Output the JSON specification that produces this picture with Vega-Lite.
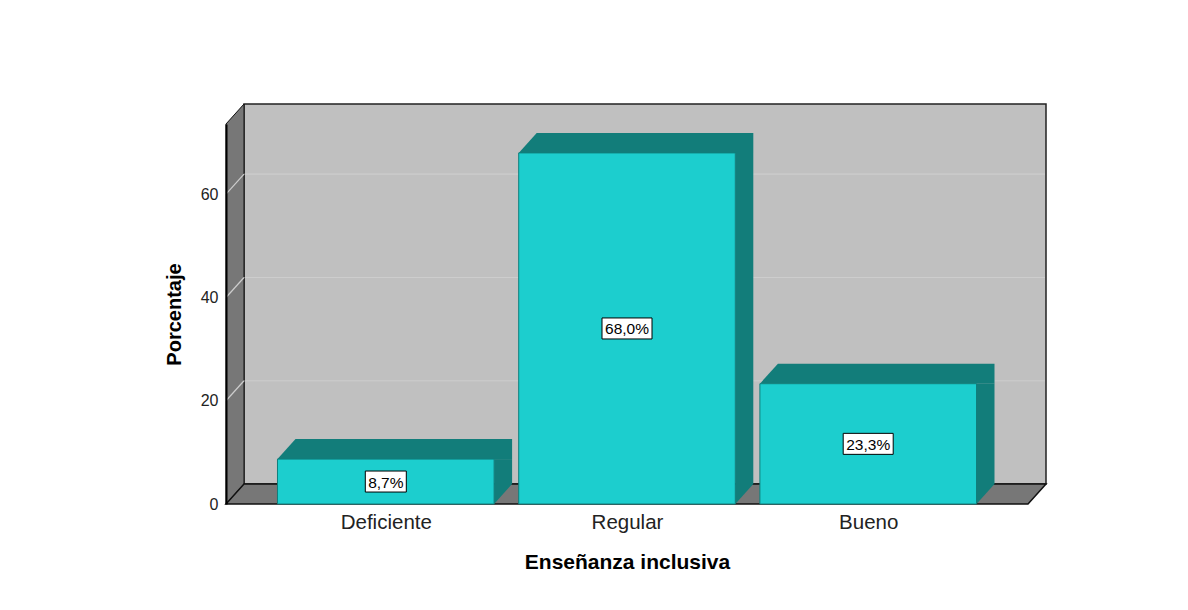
{
  "$schema": "https://vega.github.io/schema/vega-lite/v6.json",
  "width": 802,
  "height": 380,
  "autosize": {"type": "none"},
  "padding": {"left": 226, "top": 124, "right": 160, "bottom": 106},
  "background": "white",
  "datasets": {
    "bars": [
      {"cat": "Deficiente", "idx": 0, "pct": 8.7, "label": "8,7%"},
      {"cat": "Regular", "idx": 1, "pct": 68.0, "label": "68,0%"},
      {"cat": "Bueno", "idx": 2, "pct": 23.3, "label": "23,3%"}
    ],
    "grid": [{"v": 20}, {"v": 40}, {"v": 60}]
  },
  "data": {"name": "bars"},
  "layer": [
    {
      "layer": [
        {
          "data": {"values": [{}]},
          "mark": {"type": "rect", "fill": "#c0c0c0", "stroke": "#222222", "strokeWidth": 1.5, "xOffset": 18, "x2Offset": 18, "yOffset": -20, "y2Offset": -20},
          "encoding": {
            "x": {"datum": -0.6625, "type": "quantitative",
              "scale": {"domain": [-0.6625, 2.6625], "nice": false, "zero": false},
              "axis": {"title": "Enseñanza inclusiva", "values": [0, 1, 2], "labelExpr": "['Deficiente','Regular','Bueno'][datum.value]", "ticks": false, "domain": false, "grid": false, "labelPadding": 8, "titlePadding": 19, "labelFontSize": 20.5, "labelColor": "#222222", "titleFontSize": 21, "titleFontWeight": "bold", "titleColor": "#000000", "labelFlush": false, "labelOverlap": false}},
            "x2": {"datum": 2.6625},
            "y": {"datum": 0, "type": "quantitative",
              "scale": {"domain": [0, 73.6], "nice": false, "zero": true},
              "axis": {"title": "Porcentaje", "values": [0, 20, 40, 60], "ticks": false, "domain": true, "domainColor": "#000000", "domainWidth": 2, "grid": false, "zindex": 1, "labelPadding": 8, "titlePadding": 16, "labelFontSize": 16, "labelColor": "#222222", "titleFontSize": 20, "titleFontWeight": "bold", "titleColor": "#000000", "labelFlush": false}},
            "y2": {"datum": 73.6}
          }
        },
        {
          "data": {"name": "grid"},
          "mark": {"type": "rule", "stroke": "#cdcdcd", "strokeWidth": 1.2, "xOffset": 18, "x2Offset": 17, "yOffset": -20, "y2Offset": -20},
          "encoding": {
            "x": {"datum": -0.6625, "type": "quantitative"},
            "x2": {"datum": 2.6625},
            "y": {"field": "v", "type": "quantitative"}
          }
        },
        {
          "data": {"values": [{}]},
          "mark": {"type": "point", "shape": "M0,0L0,-380L18,-400L18,-20Z", "size": 4, "filled": true, "fill": "#777777", "stroke": "#111111", "strokeWidth": 1, "opacity": 1},
          "encoding": {
            "x": {"datum": -0.6625, "type": "quantitative"},
            "y": {"datum": 0, "type": "quantitative"}
          }
        },
        {
          "data": {"name": "grid"},
          "mark": {"type": "point", "shape": "M0,0L18,-20", "size": 4, "filled": false, "fill": null, "stroke": "#cdcdcd", "strokeWidth": 1.2, "opacity": 1},
          "encoding": {
            "x": {"datum": -0.6625, "type": "quantitative"},
            "y": {"field": "v", "type": "quantitative"}
          }
        },
        {
          "data": {"values": [{}]},
          "mark": {"type": "point", "shape": "M0,0L802,0L820,-20L18,-20Z", "size": 4, "filled": true, "fill": "#777777", "stroke": "#111111", "strokeWidth": 1.5, "opacity": 1},
          "encoding": {
            "x": {"datum": -0.6625, "type": "quantitative"},
            "y": {"datum": 0, "type": "quantitative"}
          }
        },
        {
          "mark": {"type": "rect", "fill": "#127d7a", "xOffset": 108.3, "x2Offset": 126.3, "y2Offset": -20},
          "encoding": {
            "x": {"field": "idx", "type": "quantitative"},
            "x2": {"field": "idx"},
            "y": {"field": "pct", "type": "quantitative"},
            "y2": {"datum": 0}
          }
        },
        {
          "mark": {"type": "point", "shape": "M108.3,0L108.3,-20L126.3,-20Z", "size": 4, "filled": true, "fill": "#127d7a", "strokeWidth": 0, "opacity": 1},
          "encoding": {
            "x": {"field": "idx", "type": "quantitative"},
            "y": {"datum": 0, "type": "quantitative"}
          }
        },
        {
          "mark": {"type": "point", "shape": "M-108.3,0L-90.3,-20L126.3,-20L126.3,0Z", "size": 4, "filled": true, "fill": "#127d7a", "strokeWidth": 0, "opacity": 1},
          "encoding": {
            "x": {"field": "idx", "type": "quantitative"},
            "y": {"field": "pct", "type": "quantitative"}
          }
        },
        {
          "mark": {"type": "rect", "fill": "#1ccece", "stroke": "#0f7f7c", "strokeWidth": 1, "xOffset": -108.3, "x2Offset": 108.3},
          "encoding": {
            "x": {"field": "idx", "type": "quantitative"},
            "x2": {"field": "idx"},
            "y": {"field": "pct", "type": "quantitative"},
            "y2": {"datum": 0}
          }
        }
      ]
    },
    {
      "layer": [
        {
          "mark": {"type": "point", "size": 4, "filled": true, "fill": "#ffffff", "stroke": "#000000", "strokeWidth": 1, "opacity": 1},
          "encoding": {
            "x": {"field": "idx", "type": "quantitative"},
            "y": {"field": "pct", "type": "quantitative", "scale": {"domain": [0, 147.2], "nice": false, "zero": true}, "axis": null},
            "shape": {"field": "cat", "type": "nominal", "legend": null,
              "scale": {"domain": ["Deficiente", "Regular", "Bueno"],
                "range": ["M-20.5,-10.5H20.5V10.5H-20.5Z", "M-25,-10.5H25V10.5H-25Z", "M-25,-10.5H25V10.5H-25Z"]}}
          }
        },
        {
          "mark": {"type": "text", "font": "Liberation Sans", "fontSize": 15.5, "fill": "#000000", "align": "center", "baseline": "middle", "dy": 1},
          "encoding": {
            "x": {"field": "idx", "type": "quantitative"},
            "y": {"field": "pct", "type": "quantitative"},
            "text": {"field": "label"}
          }
        }
      ]
    }
  ],
  "resolve": {"scale": {"y": "independent"}},
  "config": {
    "view": {"stroke": null},
    "font": "Liberation Sans",
    "axis": {"labelFont": "Liberation Sans", "titleFont": "Liberation Sans"}
  }
}
